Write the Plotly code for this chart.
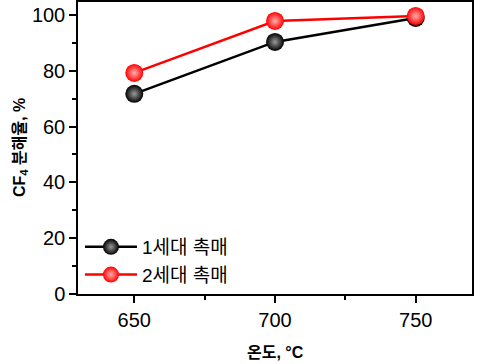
import plotly.graph_objects as go

temps = [650, 700, 750]
gen1 = [71.7, 90.3, 98.9]
gen2 = [79.2, 97.8, 99.6]
names = ["1세대 촉매", "2세대 촉매"]

font = "Liberation Sans, Arial, Noto Sans CJK KR, sans-serif"

fig = go.Figure()
fig.add_trace(go.Scatter(x=temps, y=gen1, mode="lines+markers", name=names[0],
                         line=dict(color="black", width=2.5),
                         marker=dict(size=18, color="black",
                                     gradient=dict(type="radial", color="#9a9a9a"),
                                     line=dict(width=0))))
fig.add_trace(go.Scatter(x=temps, y=gen2, mode="lines+markers", name=names[1],
                         line=dict(color="red", width=2.5),
                         marker=dict(size=18, color="#ff0000",
                                     gradient=dict(type="radial", color="#ffb0b0"),
                                     line=dict(width=0))))

axis_common = dict(showline=True, linecolor="black", linewidth=1.5, mirror=True,
                   ticks="outside", ticklen=7, tickwidth=1.5, tickcolor="black",
                   showgrid=False, zeroline=False, automargin=False,
                   tickfont=dict(family=font, size=20, color="black"))

fig.update_xaxes(range=[630, 770], tickvals=temps, ticktext=[str(t) for t in temps],
                 minor=dict(dtick=25, tick0=625, ticks="outside", ticklen=4, tickwidth=1.5, tickcolor="black"),
                 **axis_common)
fig.update_yaxes(range=[0, 104.6], dtick=20,
                 minor=dict(dtick=10, ticks="outside", ticklen=4, tickwidth=1.5, tickcolor="black"),
                 **axis_common)

fig.add_annotation(text="<b>온도, °C</b>", xref="paper", yref="paper", x=0.5, y=-0.2,
                   xanchor="center", yanchor="middle", showarrow=False,
                   font=dict(family=font, size=16, color="black"))
fig.add_annotation(text="<b>CF<sub>4</sub> 분해율, %</b>", xref="paper", yref="paper",
                   x=0, xshift=-58, y=0.5, xanchor="center", yanchor="middle", textangle=-90,
                   showarrow=False, font=dict(family=font, size=16, color="black"))

fig.update_layout(width=496, height=364, margin=dict(l=78, r=24, t=2, b=70),
                  plot_bgcolor="white", paper_bgcolor="white",
                  legend=dict(x=0.005, y=0.0, xanchor="left", yanchor="bottom",
                              bgcolor="rgba(0,0,0,0)", font=dict(family=font, size=19, color="black"),
                              tracegroupgap=0, itemwidth=52))
fig.write_html("out.html", config={"displayModeBar": False},
               post_script="document.body.style.margin='0px';document.body.style.overflow='hidden';")
